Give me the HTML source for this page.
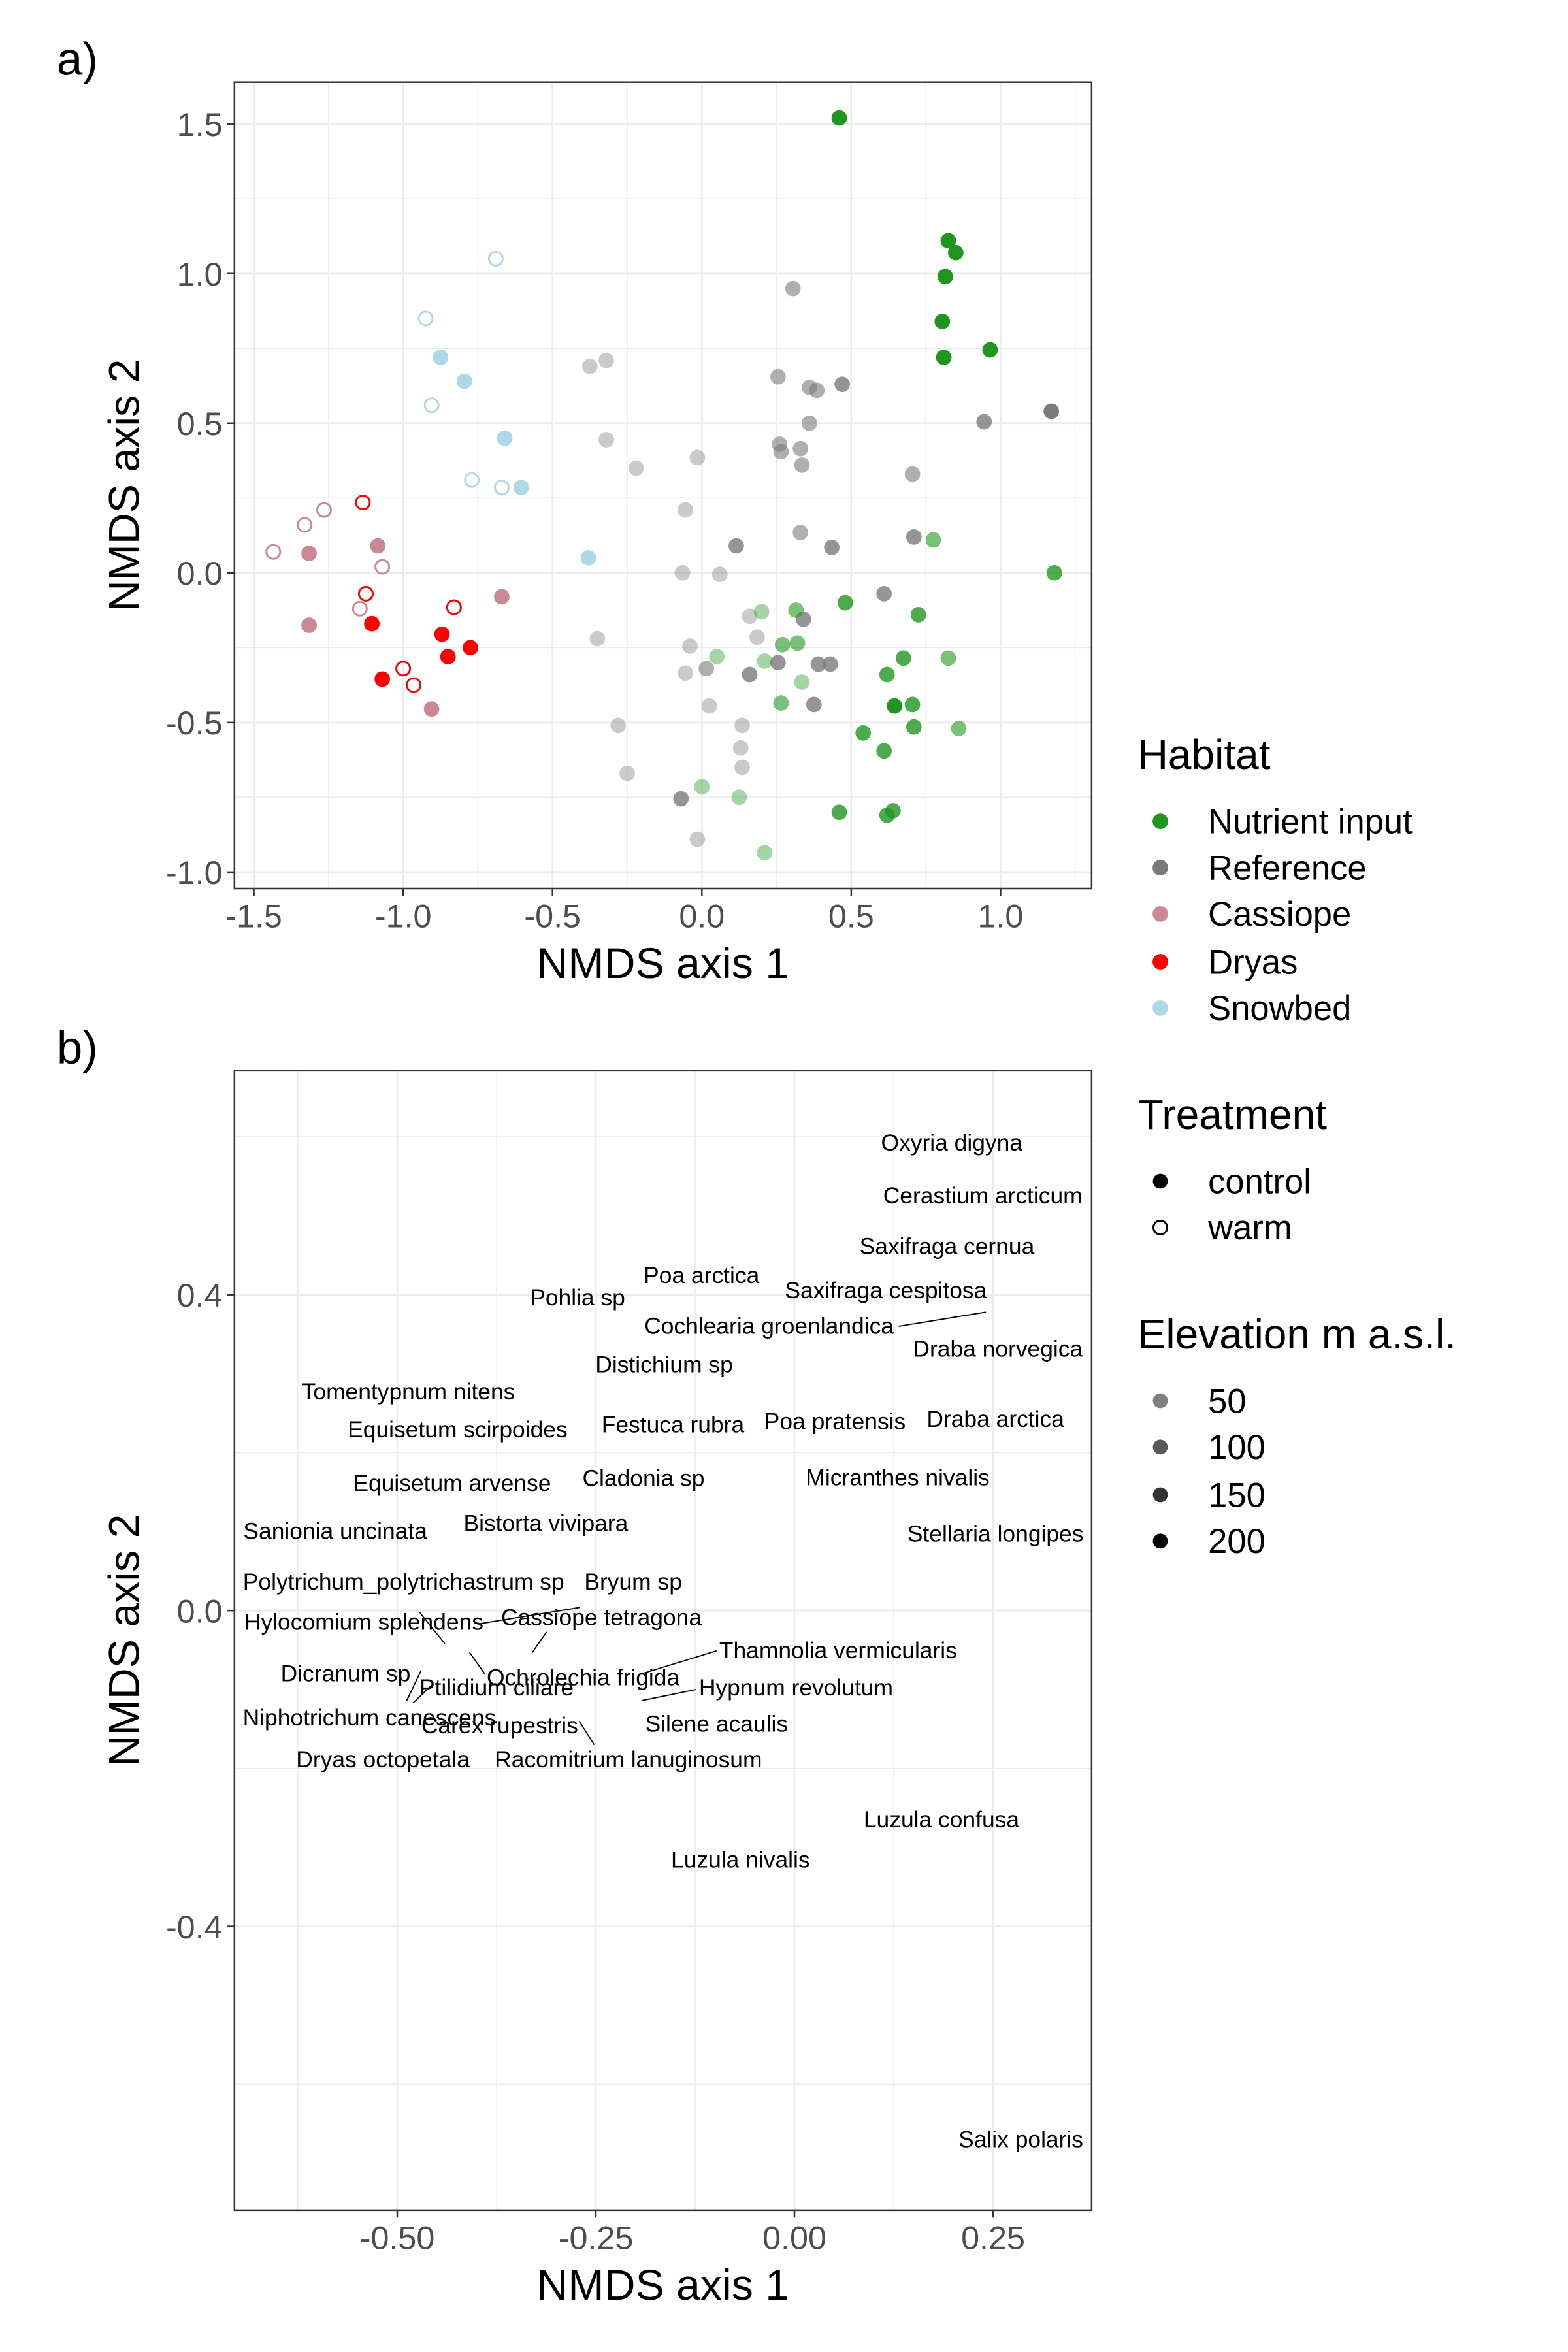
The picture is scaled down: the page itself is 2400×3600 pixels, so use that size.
<!DOCTYPE html>
<html><head><meta charset="utf-8"><style>
html,body{margin:0;padding:0;background:#fff}
svg{display:block;font-family:"Liberation Sans",sans-serif}
</style></head><body>
<svg id="root" width="2400" height="3600" viewBox="0 0 1050 1575" xmlns="http://www.w3.org/2000/svg">
<rect x="0" y="0" width="1050" height="1575" fill="#fff"/>
<g id="panelA"></g>
<g id="panelB"></g>
<g id="legend"></g>
</svg>
<script>
// ---------- Panel a data ----------
const habitats = ["Nutrient input","Reference","Cassiope","Dryas","Snowbed"];
const habitatColors = ["#1f961f","#7a7a7a","#c98894","#ff0000","#add8e6"];
const elevLevels = ["50","100","150","200"];
const elevAlpha = [0.4,0.6,0.8,1.0];
// [x, y, habitatIndex, warm(1)/control(0), elevationIndex]
const snowbedPts = [[-0.69,1.05,4,1,3],[-0.925,0.85,4,1,3],[-0.905,0.56,4,1,3],[-0.77,0.31,4,1,3],[-0.67,0.285,4,1,3],
 [-0.875,0.72,4,0,3],[-0.795,0.64,4,0,3],[-0.66,0.45,4,0,3],[-0.605,0.285,4,0,3],[-0.38,0.05,4,0,3]];
const cassiopePts = [[-1.435,0.07,2,1,3],[-1.33,0.16,2,1,3],[-1.265,0.21,2,1,3],[-1.07,0.02,2,1,3],[-1.145,-0.12,2,1,3],
 [-1.315,0.065,2,0,3],[-1.085,0.09,2,0,3],[-1.315,-0.175,2,0,3],[-0.67,-0.08,2,0,3],[-0.905,-0.455,2,0,3]];
const dryasPts = [[-1.135,0.235,3,1,3],[-1.125,-0.07,3,1,3],[-0.83,-0.115,3,1,3],[-1.0,-0.32,3,1,3],[-0.965,-0.375,3,1,3],
 [-1.105,-0.17,3,0,3],[-0.87,-0.205,3,0,3],[-0.775,-0.25,3,0,3],[-0.85,-0.28,3,0,3],[-1.07,-0.355,3,0,3]];
const referencePts = [[-0.375,0.69,1,0,0],[-0.32,0.71,1,0,0],[-0.32,0.445,1,0,0],[-0.22,0.35,1,0,0],[-0.015,0.385,1,0,0],
 [-0.055,0.21,1,0,0],[-0.065,0,1,0,0],[0.06,-0.005,1,0,0],[-0.35,-0.22,1,0,0],[-0.28,-0.51,1,0,0],[-0.25,-0.67,1,0,0],
 [0.16,-0.145,1,0,0],[0.185,-0.215,1,0,0],[-0.04,-0.245,1,0,0],[-0.055,-0.335,1,0,0],[0.025,-0.445,1,0,0],[0.135,-0.51,1,0,0],
 [0.13,-0.585,1,0,0],[0.135,-0.65,1,0,0],[-0.015,-0.89,1,0,0],
 [0.305,0.95,1,0,1],[0.255,0.655,1,0,1],[0.36,0.62,1,0,1],[0.385,0.61,1,0,1],[0.36,0.5,1,0,1],[0.26,0.43,1,0,1],[0.265,0.405,1,0,1],
 [0.33,0.415,1,0,1],[0.335,0.36,1,0,1],[0.705,0.33,1,0,1],[0.33,0.135,1,0,1],[0.015,-0.32,1,0,1],
 [0.47,0.63,1,0,2],[0.115,0.09,1,0,2],[0.435,0.085,1,0,2],[0.61,-0.07,1,0,2],[0.34,-0.155,1,0,2],[0.255,-0.3,1,0,2],[0.39,-0.305,1,0,2],
 [0.43,-0.305,1,0,2],[0.16,-0.34,1,0,2],[0.375,-0.44,1,0,2],[-0.07,-0.755,1,0,2],[0.945,0.505,1,0,2],[0.71,0.12,1,0,2],
 [1.17,0.54,1,0,3]];
const nutrientPts = [[0.46,1.52,0,0,3],[0.825,1.11,0,0,3],[0.85,1.07,0,0,3],[0.815,0.99,0,0,3],[0.805,0.84,0,0,3],[0.81,0.72,0,0,3],[0.965,0.745,0,0,3],
 [0.775,0.11,0,0,1],[1.18,0,0,0,2],[0.48,-0.1,0,0,2],[0.725,-0.14,0,0,2],[0.825,-0.285,0,0,1],[0.675,-0.285,0,0,2],[0.62,-0.34,0,0,2],
 [0.645,-0.445,0,0,3],[0.705,-0.44,0,0,2],[0.71,-0.515,0,0,2],[0.54,-0.535,0,0,2],[0.61,-0.595,0,0,2],[0.86,-0.52,0,0,1],
 [0.46,-0.8,0,0,2],[0.64,-0.795,0,0,2],[0.62,-0.81,0,0,2],[0.2,-0.13,0,0,0],[0.315,-0.125,0,0,1],[0.05,-0.28,0,0,0],[0.21,-0.295,0,0,0],
 [0.27,-0.24,0,0,1],[0.32,-0.235,0,0,1],[0.335,-0.365,0,0,0],[0.265,-0.435,0,0,1],[0,-0.715,0,0,0],[0.125,-0.75,0,0,0],[0.21,-0.935,0,0,0]];
const aXTicks = [-1.5,-1.0,-0.5,0.0,0.5,1.0];
const aXTickLabels = ["-1.5","-1.0","-0.5","0.0","0.5","1.0"];
const aYTicks = [1.5,1.0,0.5,0.0,-0.5,-1.0];
const aYTickLabels = ["1.5","1.0","0.5","0.0","-0.5","-1.0"];

// ---------- Panel b data ----------
const speciesNames = ["Oxyria digyna","Cerastium arcticum","Saxifraga cernua","Poa arctica","Pohlia sp","Saxifraga cespitosa",
 "Cochlearia groenlandica","Draba norvegica","Distichium sp","Tomentypnum nitens","Equisetum scirpoides","Festuca rubra",
 "Poa pratensis","Draba arctica","Equisetum arvense","Cladonia sp","Micranthes nivalis","Sanionia uncinata","Bistorta vivipara",
 "Stellaria longipes","Polytrichum_polytrichastrum sp","Bryum sp","Hylocomium splendens","Cassiope tetragona",
 "Thamnolia vermicularis","Dicranum sp","Ochrolechia frigida","Ptilidium ciliare","Hypnum revolutum","Niphotrichum canescens",
 "Carex rupestris","Silene acaulis","Dryas octopetala","Racomitrium lanuginosum","Luzula confusa","Luzula nivalis","Salix polaris"];
const speciesX = [0.198,0.237,0.192,-0.117,-0.273,0.115,-0.032,0.256,-0.164,-0.486,-0.424,-0.153,0.051,0.253,-0.431,-0.19,
 0.13,-0.578,-0.313,0.253,-0.492,-0.203,-0.542,-0.243,0.055,-0.565,-0.266,-0.375,0.002,-0.535,-0.371,-0.098,-0.518,-0.209,
 0.185,-0.068,0.285];
const speciesY = [0.592,0.525,0.461,0.424,0.396,0.405,0.36,0.331,0.311,0.277,0.229,0.235,0.239,0.242,0.161,0.167,0.168,0.100,
 0.110,0.097,0.036,0.036,-0.015,-0.009,-0.051,-0.08,-0.085,-0.098,-0.098,-0.136,-0.146,-0.144,-0.189,-0.189,-0.265,-0.316,-0.670];
// repel connector segments [x1,y1,x2,y2] in data units
const segments = [[0.131,0.360,0.241,0.378],[-0.398,-0.017,-0.270,0.004],[-0.472,-0.002,-0.440,-0.042],[-0.330,-0.053,-0.312,-0.027],
 [-0.192,-0.080,-0.098,-0.051],[-0.409,-0.053,-0.390,-0.080],[-0.470,-0.076,-0.488,-0.114],[-0.192,-0.114,-0.124,-0.100],
 [-0.455,-0.093,-0.480,-0.117],[-0.271,-0.140,-0.252,-0.170]];
const bXTicks = [-0.5,-0.25,0,0.25];
const bXTickLabels = ["-0.50","-0.25","0.00","0.25"];
const bYTicks = [0.4,0.0,-0.4];
const bYTickLabels = ["0.4","0.0","-0.4"];

// ---------- helpers ----------
const NS="http://www.w3.org/2000/svg";
function mk(parent,tag,attrs,text){const e=document.createElementNS(NS,tag);for(const k in attrs)e.setAttribute(k,attrs[k]);if(text!==undefined)e.textContent=text;parent.appendChild(e);return e;}
function lin(d0,d1,p0,p1){return v=>p0+(v-d0)*(p1-p0)/(d1-d0);}

function drawFrame(g,L,T,R,B,xs,ys,xMaj,yMaj,xMin,yMin,xl,yl,xTitle,yTitle,prefix){
  for(const v of xMin){const l=mk(g,"line",{x1:xs(v),x2:xs(v),y1:T,y2:B,stroke:"#ebebeb","stroke-width":0.7});
    
    }
  for(const v of yMin){const l=mk(g,"line",{x1:L,x2:R,y1:ys(v),y2:ys(v),stroke:"#ebebeb","stroke-width":0.7});
    
    }
  xMaj.forEach((v,i)=>{const l=mk(g,"line",{x1:xs(v),x2:xs(v),y1:T,y2:B,stroke:"#ebebeb","stroke-width":1.2});
    
    
    const t=mk(g,"line",{x1:xs(v),x2:xs(v),y1:B,y2:B+5,stroke:"#333","stroke-width":1.1});
    
    
    const tx=mk(g,"text",{x:xs(v),y:B+26,"text-anchor":"middle","font-size":22,fill:"#4d4d4d"},xl[i]);
    
    });
  yMaj.forEach((v,i)=>{const l=mk(g,"line",{x1:L,x2:R,y1:ys(v),y2:ys(v),stroke:"#ebebeb","stroke-width":1.2});
    
    
    const t=mk(g,"line",{x1:L-5,x2:L,y1:ys(v),y2:ys(v),stroke:"#333","stroke-width":1.1});
    
    
    const tx=mk(g,"text",{x:L-8,y:ys(v)+8,"text-anchor":"end","font-size":22,fill:"#4d4d4d"},yl[i]);
    
    });
  const xt=mk(g,"text",{x:(L+R)/2,y:B+60,"text-anchor":"middle","font-size":29,fill:"#000"},xTitle);
  
  
  const yt=mk(g,"text",{x:0,y:0,"text-anchor":"middle","font-size":29,fill:"#000",transform:`translate(93,${(T+B)/2}) rotate(-90)`},yTitle);
  
  
}
function border(g,L,T,R,B,prefix){const r=mk(g,"rect",{x:L,y:T,width:R-L,height:B-T,fill:"none",stroke:"#333","stroke-width":1.1});
  
  }

// ---------- Panel a ----------
(function(){
  const g=document.getElementById("panelA");
  const L=157,T=55,R=731,B=595;
  const xs=lin(-1.5,1.0,170,670), ys=lin(1.5,-1.0,83,584);
  drawFrame(g,L,T,R,B,xs,ys,aXTicks,aYTicks,[-1.25,-0.75,-0.25,0.25,0.75,1.25],[1.25,0.75,0.25,-0.25,-0.75],
    aXTickLabels,aYTickLabels,"NMDS axis 1","NMDS axis 2","a");
  const all=[].concat(referencePts,nutrientPts,snowbedPts,cassiopePts,dryasPts);
  for(const p of all){
    const col=habitatColors[p[2]];
    let c;
    if(p[3]===1){c=mk(g,"circle",{cx:xs(p[0]),cy:ys(p[1]),r:4.6,fill:"none",stroke:col,"stroke-width":1.3,"stroke-opacity":elevAlpha[p[4]]});}
    else{c=mk(g,"circle",{cx:xs(p[0]),cy:ys(p[1]),r:5.2,fill:col,"fill-opacity":elevAlpha[p[4]]});}
    
    
  }
  border(g,L,T,R,B,"a");
  const lab=mk(g,"text",{x:38,y:50,"font-size":31,fill:"#000"},"a)");
  
  
})();

// ---------- Panel b ----------
(function(){
  const g=document.getElementById("panelB");
  const L=157,T=717,R=731,B=1480;
  const xs=lin(0,0.25,532,665), ys=lin(0.4,-0.4,867,1290);
  drawFrame(g,L,T,R,B,xs,ys,bXTicks,bYTicks,[-0.625,-0.375,-0.125,0.125],[0.6,0.2,-0.2,-0.6],
    bXTickLabels,bYTickLabels,"NMDS axis 1","NMDS axis 2","b");
  for(const s of segments){const l=mk(g,"line",{x1:xs(s[0]),y1:ys(s[1]),x2:xs(s[2]),y2:ys(s[3]),stroke:"#000","stroke-width":0.8});
    
    }
  speciesNames.forEach((n,i)=>{const t=mk(g,"text",{x:xs(speciesX[i]),y:ys(speciesY[i])+5,"text-anchor":"middle","font-size":15.5,fill:"#000"},n);
    
    });
  border(g,L,T,R,B,"b");
  const lab=mk(g,"text",{x:38,y:712,"font-size":31,fill:"#000"},"b)");
  
  
})();

// ---------- Legend ----------
(function(){
  const g=document.getElementById("legend");
  const hy=[550,581,612,644,675];
  const t1=mk(g,"text",{x:762,y:515,"font-size":28,fill:"#000"},"Habitat");
  
  
  habitats.forEach((h,i)=>{const c=mk(g,"circle",{cx:777,cy:hy[i],r:5.2,fill:habitatColors[i]});
    
    
    const t=mk(g,"text",{x:809,y:hy[i]+8,"font-size":23,fill:"#000"},h);
    
    });
  const t2=mk(g,"text",{x:762,y:756,"font-size":28,fill:"#000"},"Treatment");
  
  
  const tr=["control","warm"], ty=[791,822];
  tr.forEach((h,i)=>{const c=i===0?mk(g,"circle",{cx:777,cy:ty[i],r:5,fill:"#000"}):mk(g,"circle",{cx:777,cy:ty[i],r:4.6,fill:"none",stroke:"#000","stroke-width":1.3});
    
    
    const t=mk(g,"text",{x:809,y:ty[i]+8,"font-size":23,fill:"#000"},h);
    
    });
  const t3=mk(g,"text",{x:762,y:903,"font-size":28,fill:"#000"},"Elevation m a.s.l.");
  
  
  const ey=[938,969,1001,1032], la=[0.5,0.65,0.8,1];
  elevLevels.forEach((h,i)=>{const c=mk(g,"circle",{cx:777,cy:ey[i],r:5,fill:"#000","fill-opacity":la[i]});
    
    
    const t=mk(g,"text",{x:809,y:ey[i]+8,"font-size":23,fill:"#000"},h);
    
    });
})();
</script>
</body></html>
